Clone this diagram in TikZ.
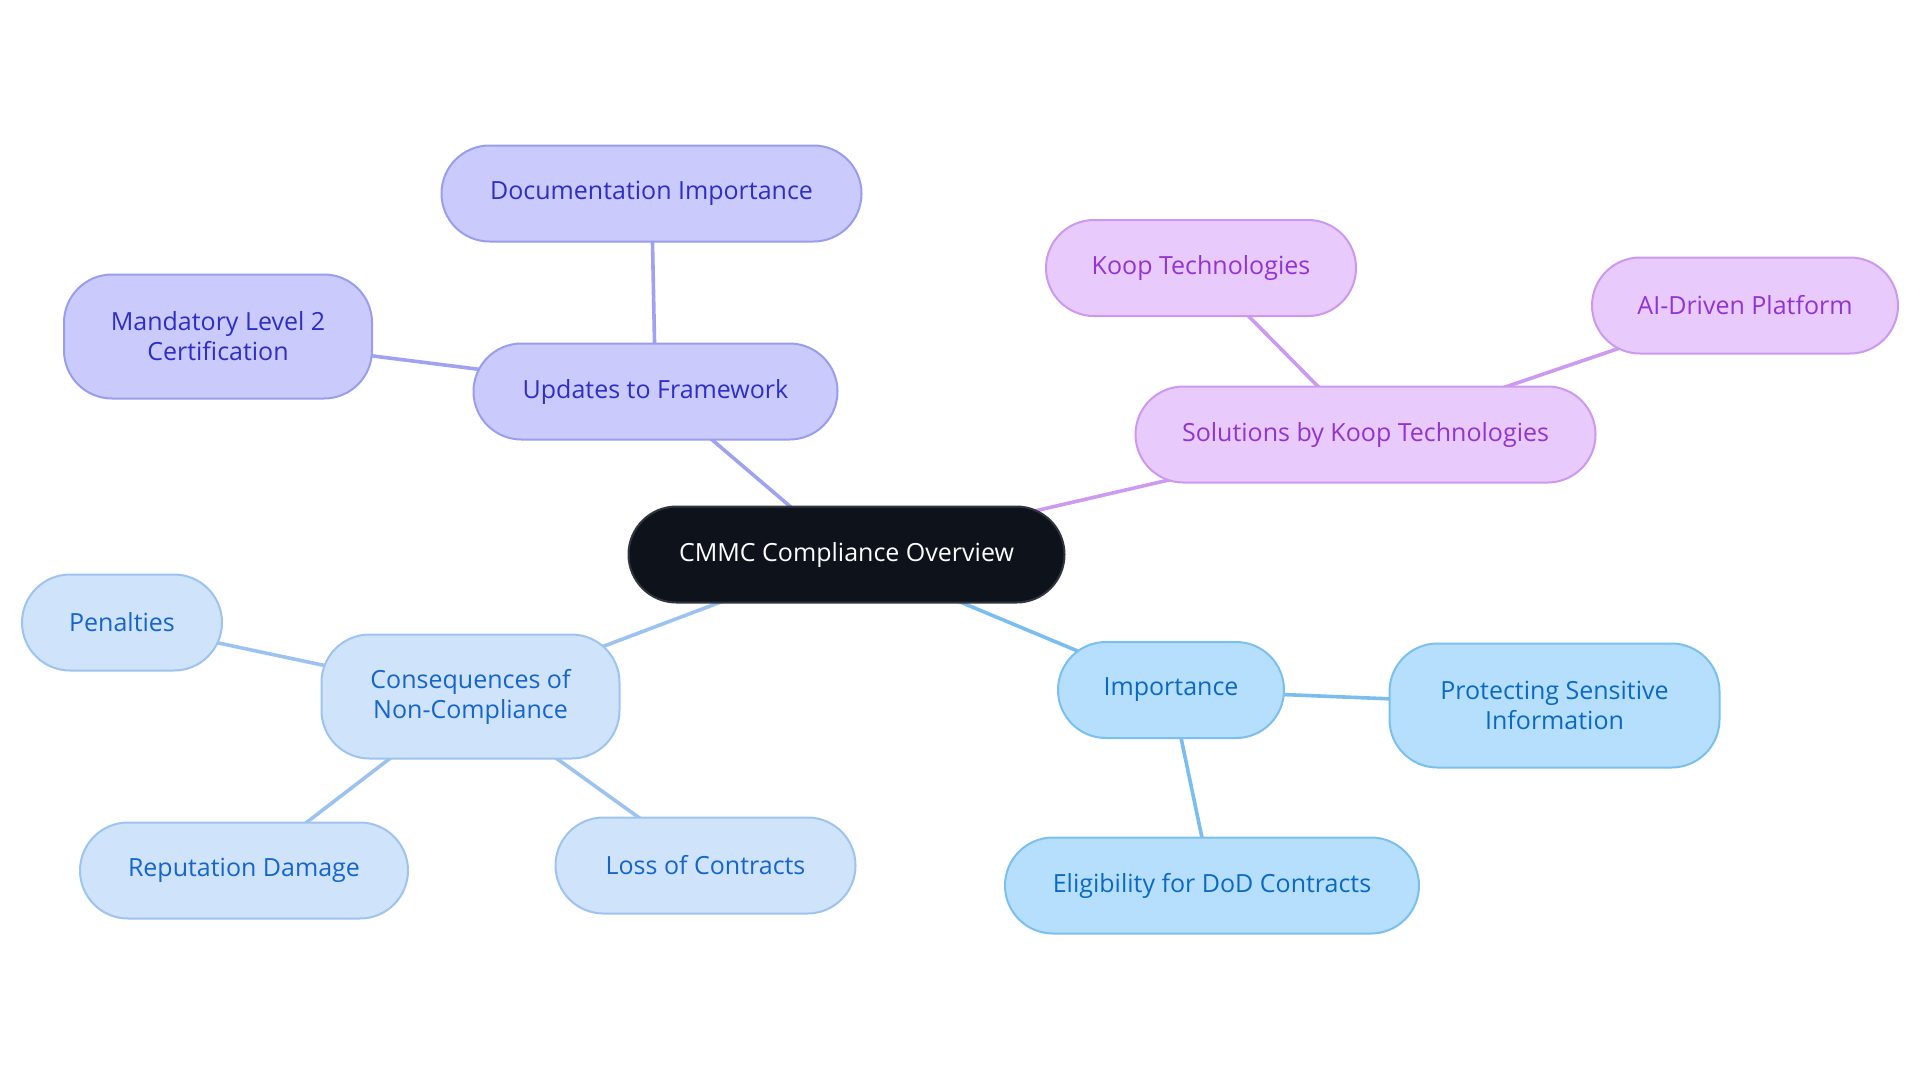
\documentclass[tikz,border=0pt]{standalone}
\usepackage{fontspec}
\setmainfont{Open Sans}
\usetikzlibrary{backgrounds}
\definecolor{cfill}{HTML}{0D121B}
\definecolor{cdraw}{HTML}{30353D}
\definecolor{ufill}{HTML}{CACBFC}
\definecolor{udraw}{HTML}{9A9DEE}
\definecolor{utext}{HTML}{2E2EC4}
\definecolor{uline}{HTML}{9FA2F0}
\definecolor{kfill}{HTML}{E8CBFC}
\definecolor{kdraw}{HTML}{CC98F0}
\definecolor{ktext}{HTML}{9233D4}
\definecolor{kline}{HTML}{CC9AF0}
\definecolor{ifill}{HTML}{B5DFFD}
\definecolor{idraw}{HTML}{7BBFEE}
\definecolor{itext}{HTML}{0B69C4}
\definecolor{iline}{HTML}{7CBDF0}
\definecolor{nfill}{HTML}{CFE3FB}
\definecolor{ndraw}{HTML}{9DC3EE}
\definecolor{ntext}{HTML}{1565CC}
\definecolor{nline}{HTML}{9CC3F0}
\tikzset{
  box/.style={rounded corners=24pt, line width=1pt, inner sep=0pt, align=center,
    font=\fontsize{12.5}{15}\selectfont},
  cbox/.style={box, fill=cfill, draw=cdraw, text=white},
  ubox/.style={box, fill=ufill, draw=udraw, text=utext},
  kbox/.style={box, fill=kfill, draw=kdraw, text=ktext},
  ibox/.style={box, fill=ifill, draw=idraw, text=itext},
  nbox/.style={box, fill=nfill, draw=ndraw, text=ntext},
  link/.style={line width=1.8pt}
}
\begin{document}
\begin{tikzpicture}[x=0.5pt,y=-0.5pt]
\useasboundingbox (0,0) rectangle (1920,1083);
% nodes
\node[cbox, minimum width=218pt, minimum height=48pt] (c) at (846.5,554.5) {CMMC Compliance Overview};
\node[ubox, minimum width=182pt, minimum height=48pt] (u) at (655.5,391.5) {Updates to Framework};
\node[ubox, minimum width=210pt, minimum height=48pt] (ud) at (651.5,193.5) {Documentation Importance};
\node[ubox, minimum width=154pt, minimum height=62pt] (um) at (218,336.5) {Mandatory Level 2\\Certification};
\node[kbox, minimum width=230pt, minimum height=48pt] (k) at (1365.5,434.5) {Solutions by Koop Technologies};
\node[kbox, minimum width=155pt, minimum height=48pt] (kt) at (1201,268) {Koop Technologies};
\node[kbox, minimum width=153pt, minimum height=48pt] (ka) at (1745,305.5) {AI-Driven Platform};
\node[ibox, minimum width=113pt, minimum height=48pt] (i) at (1171,690) {Importance};
\node[ibox, minimum width=165pt, minimum height=62pt] (ip) at (1554.5,705.5) {Protecting Sensitive\\Information};
\node[ibox, minimum width=207pt, minimum height=48pt] (ie) at (1212,885.5) {Eligibility for DoD Contracts};
\node[nbox, minimum width=149pt, minimum height=62pt] (n) at (470.5,696.5) {Consequences of\\Non-Compliance};
\node[nbox, minimum width=100pt, minimum height=48pt] (np) at (122,622.5) {Penalties};
\node[nbox, minimum width=164pt, minimum height=48pt] (nr) at (244,870.5) {Reputation Damage};
\node[nbox, minimum width=150pt, minimum height=48pt] (nl) at (705.5,865.5) {Loss of Contracts};
% edges behind nodes
\begin{scope}[on background layer]
\draw[link, uline] (c.center) -- (u.center);
\draw[link, uline] (u.center) -- (ud.center);
\draw[link, uline] (u.center) -- (um.center);
\draw[link, kline] (c.center) -- (k.center);
\draw[link, kline] (k.center) -- (kt.center);
\draw[link, kline] (k.center) -- (ka.center);
\draw[link, iline] (c.center) -- (i.center);
\draw[link, iline] (i.center) -- (ip.center);
\draw[link, iline] (i.center) -- (ie.center);
\draw[link, nline] (c.center) -- (n.center);
\draw[link, nline] (n.center) -- (np.center);
\draw[link, nline] (n.center) -- (nr.center);
\draw[link, nline] (n.center) -- (nl.center);
\end{scope}
\end{tikzpicture}
\end{document}
